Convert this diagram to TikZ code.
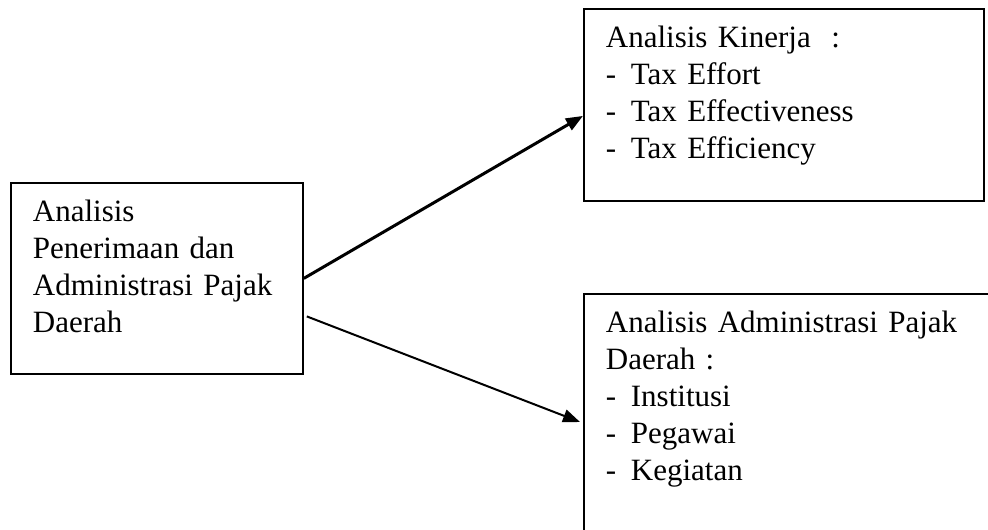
\documentclass[tikz,border=0pt]{standalone}
\usepackage{fontspec}
\setmainfont{Liberation Serif}
\usetikzlibrary{arrows.meta}
\newcommand{\butir}{\makebox[25pt][l]{-}}
\begin{document}
\begin{tikzpicture}[x=1pt,y=-1pt,
    kotak/.style={draw,line width=1.8pt,anchor=north west,align=left,
      inner xsep=22pt,inner ysep=0pt,text height=39pt,
      font=\fontsize{31}{37}\selectfont},
    panah/.style={-{Triangle[length=17pt,width=13pt]}}]
  \useasboundingbox (0,0) rectangle (988,530);
  \clip (0,0) rectangle (988,530);
  % kotak kiri
  \node[kotak,text width=248pt,text depth=152pt] (analisis) at (10,182)
    {Analisis\\Penerimaan dan\\Administrasi Pajak\\Daerah};
  % kotak kanan atas
  \node[kotak,text width=356pt,text depth=153pt] (kinerja) at (583,8)
    {Analisis Kinerja~ :\\\butir Tax Effort\\\butir Tax Effectiveness\\\butir Tax Efficiency};
  % kotak kanan bawah (terpotong)
  \node[kotak,text width=440pt,text depth=300pt] (administrasi) at (583,293)
    {Analisis Administrasi Pajak\\Daerah :\\\butir Institusi\\\butir Pegawai\\\butir Kegiatan};
  % panah
  \draw[panah,line width=3pt] (analisis.east) -- ([yshift=-11pt]kinerja.west);
  \draw[panah,line width=2pt] ([xshift=3pt,yshift=-38pt]analisis.east)
    -- ([xshift=-3pt,yshift=-129pt]administrasi.north west);
\end{tikzpicture}
\end{document}
